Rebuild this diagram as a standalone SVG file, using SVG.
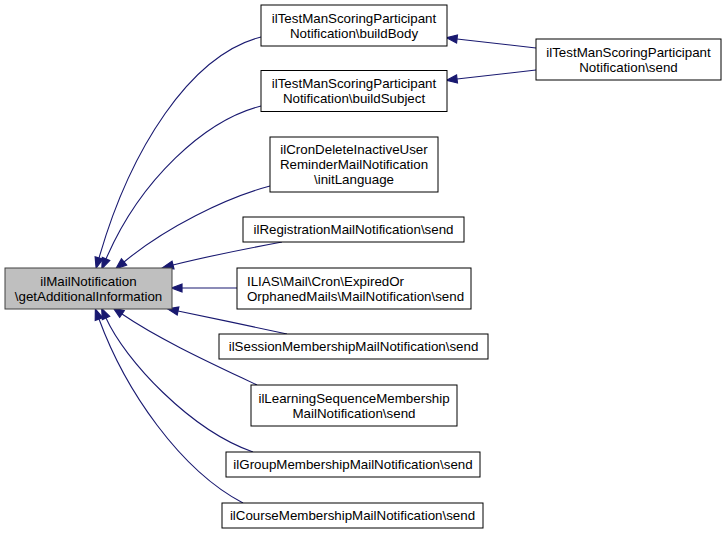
<svg xmlns="http://www.w3.org/2000/svg" width="727" height="534" viewBox="0 0 727 534">
<defs>
<style>
.node rect{fill:#ffffff;stroke:#000000;stroke-width:1}
.node.cur rect{fill:#bfbfbf;stroke:#404040}
.node text{font-family:"Liberation Sans",Arial,Helvetica,sans-serif;font-size:13.33px;fill:#000000;text-anchor:middle}
.node text.left{text-anchor:start}
.edges path{fill:none;stroke:#191970;stroke-width:1.1;marker-end:url(#arr)}
</style>
<marker id="arr" markerUnits="userSpaceOnUse" markerWidth="14" markerHeight="11" refX="0" refY="4" orient="auto" viewBox="-1.5 -1.5 14 11" overflow="visible">
<path d="M0,0 L10.5,4 L0,8 z" fill="#191970" stroke="#191970" stroke-width="1.2" stroke-linejoin="miter"/>
</marker>
</defs>
<rect width="727" height="534" fill="#ffffff"/>
<g id="connectors" class="edges">
<path d="M261,37 C190,55 130,150 99,258"/>
<path d="M261,106 C205,120 140,180 106,259"/>
<path d="M270,186 C225,198 165,228 124,262"/>
<path d="M282,242 C250,248 205,257 173,265"/>
<path d="M237,288 L182,288"/>
<path d="M287,334 C255,327 212,318 178,311"/>
<path d="M257,385 C215,365 160,340 122,314"/>
<path d="M253,452 C190,430 125,360 106,318"/>
<path d="M243,503 C180,470 125,390 99,319"/>
<path d="M536,48 L457,39"/>
<path d="M536,70 L457,79"/>
</g>
<g id="node_main" class="node cur">
<rect x="5" y="268" width="167" height="41"/>
<text x="88.5" y="285.5">ilMailNotification</text>
<text x="88.5" y="300.5">\getAdditionalInformation</text>
</g>
<g id="node_buildBody" class="node">
<rect x="261" y="5" width="186" height="41"/>
<text x="354" y="22.5">ilTestManScoringParticipant</text>
<text x="354" y="37.5">Notification\buildBody</text>
</g>
<g id="node_buildSubject" class="node">
<rect x="261" y="70.5" width="186" height="41"/>
<text x="354" y="88">ilTestManScoringParticipant</text>
<text x="354" y="103">Notification\buildSubject</text>
</g>
<g id="node_testSend" class="node">
<rect x="536" y="39" width="185" height="41"/>
<text x="628.5" y="56.5">ilTestManScoringParticipant</text>
<text x="628.5" y="71.5">Notification\send</text>
</g>
<g id="node_cronDelete" class="node">
<rect x="270" y="137" width="168" height="55"/>
<text x="354" y="153.5">ilCronDeleteInactiveUser</text>
<text x="354" y="168.5">ReminderMailNotification</text>
<text x="354" y="183.5">\initLanguage</text>
</g>
<g id="node_registration" class="node">
<rect x="243" y="217" width="221" height="25"/>
<text x="353.5" y="234">ilRegistrationMailNotification\send</text>
</g>
<g id="node_ilias" class="node">
<rect x="237" y="268" width="234" height="41"/>
<text class="left" x="247" y="285.5">ILIAS\Mail\Cron\ExpiredOr</text>
<text class="left" x="247" y="300.5">OrphanedMails\MailNotification\send</text>
</g>
<g id="node_session" class="node">
<rect x="219" y="334" width="269" height="25"/>
<text x="353.5" y="351">ilSessionMembershipMailNotification\send</text>
</g>
<g id="node_learningSeq" class="node">
<rect x="251" y="385" width="206" height="41"/>
<text x="354" y="402.5">ilLearningSequenceMembership</text>
<text x="354" y="417.5">MailNotification\send</text>
</g>
<g id="node_group" class="node">
<rect x="226" y="452" width="254" height="25"/>
<text x="353" y="469">ilGroupMembershipMailNotification\send</text>
</g>
<g id="node_course" class="node">
<rect x="222" y="503" width="261" height="25"/>
<text x="352.5" y="520">ilCourseMembershipMailNotification\send</text>
</g>
</svg>
